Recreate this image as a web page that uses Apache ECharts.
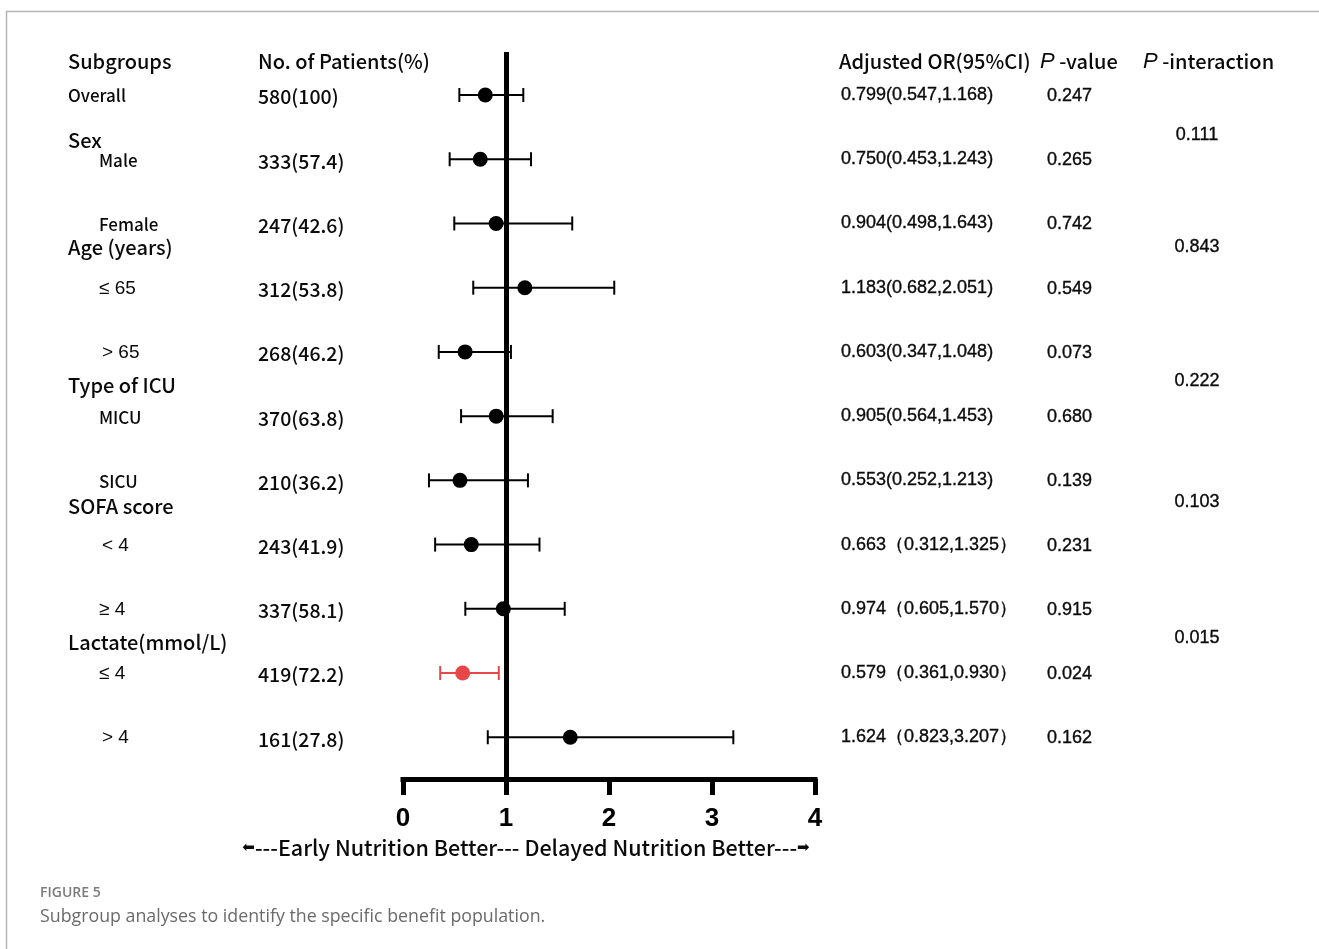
<!DOCTYPE html>
<html>
<head>
<meta charset="utf-8">
<script src="https://cdn.jsdelivr.net/npm/echarts@6/dist/echarts.min.js"></script>
<style>
  html, body { margin: 0; padding: 0; background: #ffffff; }
  #chart { width: 1319px; height: 949px; }
</style>
</head>
<body>
<div id="chart"></div>
<script>
// ---- Subgroup data ----
const subgroups = ['Overall', 'Male', 'Female', '≤ 65', '> 65', 'MICU', 'SICU', '< 4', '≥ 4', '≤ 4', '> 4'];
const patients = ['580(100)', '333(57.4)', '247(42.6)', '312(53.8)', '268(46.2)', '370(63.8)',
                  '210(36.2)', '243(41.9)', '337(58.1)', '419(72.2)', '161(27.8)'];
const oddsRatio = [0.799, 0.750, 0.904, 1.183, 0.603, 0.905, 0.553, 0.663, 0.974, 0.579, 1.624];
const ciLower   = [0.547, 0.453, 0.498, 0.682, 0.347, 0.564, 0.252, 0.312, 0.605, 0.361, 0.823];
const ciUpper   = [1.168, 1.243, 1.643, 2.051, 1.048, 1.453, 1.213, 1.325, 1.570, 0.930, 3.207];
const pValues   = ['0.247', '0.265', '0.742', '0.549', '0.073', '0.680', '0.139', '0.231', '0.915', '0.024', '0.162'];
const groupNames = ['Sex', 'Age (years)', 'Type of ICU', 'SOFA score', 'Lactate(mmol/L)'];
const pInteraction = ['0.111', '0.843', '0.222', '0.103', '0.015'];
const xTicks = [0, 1, 2, 3, 4];
const highlightRow = 9;           // lactate ≤ 4 drawn in red
const wideParenFrom = 7;          // rows from SOFA onward use full-width brackets

// ---- Layout (row index units on the hidden y axis) ----
const groupLabelPos = [0.70, 2.37, 4.52, 6.41, 8.52];
const pInteractionPos = [0.62, 2.37, 4.45, 6.34, 8.46];
const headerPos = -0.52;
const groupRowIndent = [false, true, true, true, true, true, true, true, true, true, true];

const BLACK = '#0a0a0a';
const RED = '#e8474a';
const LABEL_FONT = '"Noto Sans CJK SC", "Noto Sans", sans-serif';
const NUM_FONT = '"Liberation Sans", Arial, sans-serif';
const SYMBOL_FONT = '"Liberation Sans", "DejaVu Sans", sans-serif';

const fmt = v => v.toFixed(3);
const orText = oddsRatio.map((v, i) => i >= wideParenFrom
  ? fmt(v) + '（' + fmt(ciLower[i]) + ',' + fmt(ciUpper[i]) + '）'
  : fmt(v) + '(' + fmt(ciLower[i]) + ',' + fmt(ciUpper[i]) + ')');

const chart = echarts.init(document.getElementById('chart'), null, { renderer: 'canvas' });

const rowColor = i => (i === highlightRow ? RED : '#000000');

chart.setOption({
  animation: false,
  backgroundColor: '#ffffff',
  grid: { left: 403, right: 504, top: 52, bottom: 170 },
  xAxis: {
    type: 'value',
    min: xTicks[0],
    max: xTicks[xTicks.length - 1],
    interval: 1,
    position: 'bottom',
    splitLine: { show: false },
    axisLine: { show: true, onZero: false, lineStyle: { color: '#000', width: 5, cap: 'square' } },
    axisTick: { show: true, length: 16, lineStyle: { color: '#000', width: 5 } },
    axisLabel: {
      margin: 27,
      color: '#000',
      fontFamily: NUM_FONT,
      fontWeight: 'bold',
      fontSize: 26
    }
  },
  yAxis: {
    type: 'value',
    inverse: true,
    min: -0.67,
    max: 10.65,
    show: false
  },
  series: [
    {
      type: 'custom',
      name: 'CI',
      z: 3,
      data: subgroups.map((_, i) => [i, ciLower[i], ciUpper[i]]),
      encode: { x: [1, 2], y: 0 },
      renderItem: function (params, api) {
        const row = api.value(0);
        const a = api.coord([api.value(1), row]);
        const b = api.coord([api.value(2), row]);
        const cap = 7;
        const color = rowColor(params.dataIndex);
        const style = { stroke: color, lineWidth: 2 };
        return {
          type: 'group',
          children: [
            { type: 'line', shape: { x1: a[0], y1: a[1], x2: b[0], y2: b[1] }, style },
            { type: 'line', shape: { x1: a[0], y1: a[1] - cap, x2: a[0], y2: a[1] + cap }, style },
            { type: 'line', shape: { x1: b[0], y1: b[1] - cap, x2: b[0], y2: b[1] + cap }, style }
          ]
        };
      }
    },
    {
      type: 'scatter',
      name: 'OR',
      z: 4,
      symbol: 'circle',
      symbolSize: 15,
      itemStyle: { opacity: 1 },
      data: oddsRatio.map((v, i) => ({ value: [v, i], itemStyle: { color: rowColor(i), opacity: 1 } })),
      markLine: {
        silent: true,
        symbol: 'none',
        label: { show: false },
        lineStyle: { color: '#000', width: 5, type: 'solid', opacity: 1 },
        data: [{ xAxis: 1 }]
      }
    }
  ]
});

// ---- Table text, placed on the rows of the hidden y axis ----
const yPix = v => chart.convertToPixel({ yAxisIndex: 0 }, v);

function txt(x, y, text, opt) {
  return {
    type: 'text',
    x: x,
    y: y,
    silent: true,
    style: Object.assign({
      text: text,
      fill: BLACK,
      fontFamily: LABEL_FONT,
      fontWeight: 500,
      fontSize: 18,
      verticalAlign: 'middle',
      align: 'left'
    }, opt || {})
  };
}

// numeric columns: Arial-like face with a hairline stroke for a semibold look
const numStyle = extra => Object.assign({
  fontFamily: NUM_FONT, fontSize: 18, stroke: BLACK, lineWidth: 0.35
}, extra || {});

const g = [];
// frame
g.push({ type: 'polyline', silent: true,
  shape: { points: [[6.5, 949], [6.5, 11.5], [1319, 11.5]] },
  style: { stroke: '#b4b4b4', lineWidth: 1.5, fill: null } });

// headers
const hy = yPix(headerPos);
g.push(txt(68, hy, 'Subgroups', { fontSize: 20 }));
g.push(txt(258, hy, 'No. of Patients(%)', { fontSize: 20 }));
g.push(txt(839, hy, 'Adjusted OR(95%CI)', { fontSize: 20 }));
const italicP = (x, rest) => ({
  type: 'text', x: x, y: hy, silent: true,
  style: {
    text: '{p|P}{t|' + rest + '}',
    verticalAlign: 'middle',
    rich: {
      p: { fontFamily: NUM_FONT, fontStyle: 'italic', fontSize: 22, fill: BLACK },
      t: { fontFamily: LABEL_FONT, fontWeight: 500, fontSize: 20, fill: BLACK }
    }
  }
});
g.push(italicP(1040, ' -value'));
g.push(italicP(1143, ' -interaction'));

// rows
subgroups.forEach((name, i) => {
  const y = yPix(i);
  const symbolic = /^[<>≤≥]/.test(name);
  const x = groupRowIndent[i] ? (symbolic && /^[<>]/.test(name) ? 102 : 99) : 68;
  g.push(txt(x, y + 1, name,
    symbolic ? { fontFamily: SYMBOL_FONT, fontSize: 19 } : { fontSize: 17 }));
  g.push(txt(258, y + 2, patients[i], { fontSize: 19.5 }));
  g.push(txt(841, y, orText[i], numStyle()));
  g.push(txt(1047, y + 1, pValues[i], numStyle()));
});

// group headers and interaction p-values
groupNames.forEach((name, k) => {
  g.push(txt(68, yPix(groupLabelPos[k]), name, { fontSize: 20 }));
  g.push(txt(1197, yPix(pInteractionPos[k]), pInteraction[k], numStyle({ align: 'center' })));
});

// direction note under the axis
g.push({
  type: 'text', x: 526, y: 848, silent: true,
  style: {
    text: '{a|⬅}{t|---Early Nutrition Better--- Delayed Nutrition Better---}{a|➡}',
    align: 'center',
    verticalAlign: 'middle',
    rich: {
      a: { fontFamily: '"DejaVu Sans", sans-serif', fontSize: 15, fill: BLACK },
      t: { fontFamily: LABEL_FONT, fontWeight: 500, fontSize: 21.5, fill: BLACK }
    }
  }
});

// figure caption
g.push(txt(40, 893, 'FIGURE 5', { fontFamily: '"Open Sans", sans-serif', fontWeight: 600, fontSize: 14, fill: '#7b7b7b' }));
g.push(txt(40, 917, 'Subgroup analyses to identify the specific benefit population.', {
  fontFamily: '"Open Sans", sans-serif', fontWeight: 'normal', fontSize: 17.8, fill: '#6a6a6a' }));

chart.setOption({ graphic: g });
</script>
</body>
</html>
